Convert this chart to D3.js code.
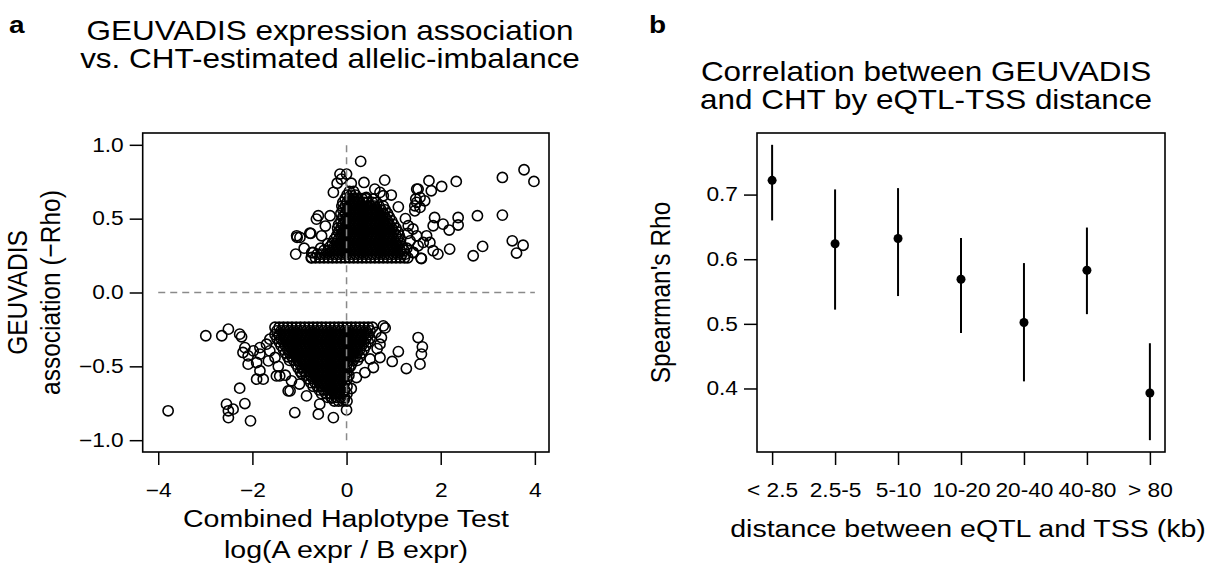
<!DOCTYPE html>
<html>
<head>
<meta charset="utf-8">
<script src="https://d3js.org/d3.v7.min.js"></script>
<style>
body { margin: 0; background: #fff; }
text { font-family: "Liberation Sans", Arial, Helvetica, sans-serif; fill: #000; }
</style>
</head>
<body>
<div id="chart"></div>
<script>
// ---- panel a: single points [CHT log ratio, -rho]
var pointsA = [
  [0.30,0.888],[-0.14,0.802],[0.00,0.802],[-0.11,0.768],[-0.28,0.678],[0.37,0.745],[0.81,0.761],
  [0.71,0.678],[0.78,0.655],[1.49,0.700],[1.47,0.633],[1.45,0.587],[-0.60,0.520],[-0.64,0.497],
  [-0.35,0.520],[-1.06,0.384],[-0.99,0.373],[-0.78,0.402],[-0.53,0.384],[-1.08,0.260],[-0.71,0.271],
  [0.42,0.644],[0.57,0.633],[0.25,0.621],[1.75,0.757],[2.02,0.718],[2.33,0.752],[3.31,0.779],
  [3.77,0.831],[3.98,0.752],[1.52,0.700],[1.56,0.644],[1.49,0.610],[1.66,0.621],[1.56,0.576],
  [1.80,0.689],[1.45,0.553],[1.87,0.508],[1.84,0.452],[2.05,0.463],[2.37,0.508],[2.37,0.457],
  [2.18,0.423],[2.78,0.520],[3.31,0.524],[1.41,0.430],[1.49,0.384],[1.63,0.339],[1.52,0.316],
  [1.77,0.339],[1.84,0.283],[1.94,0.260],[2.19,0.294],[1.59,0.230],[1.41,0.271],[1.70,0.384],
  [2.69,0.249],[2.89,0.312],[3.52,0.350],[3.75,0.320],[3.61,0.267],[1.31,0.452],[1.42,0.271],
  [1.58,0.233],[-0.74,0.270],[-0.74,0.237],[-1.05,0.373],[-0.76,0.400],[1.30,0.400],[1.25,0.500],
  [1.10,0.580],[0.95,0.660],[0.60,0.700],[-0.20,0.740],[0.10,0.740],[-0.45,0.450],[-0.40,0.330],
  [-0.90,0.300],[-0.55,0.300],[1.35,0.350],[1.28,0.300],
  [-3.79,-0.801],[-2.99,-0.293],[-2.65,-0.293],[-2.51,-0.248],[-2.27,-0.282],[-2.23,-0.300],
  [-2.16,-0.373],[-2.20,-0.406],[-2.09,-0.429],[-1.98,-0.395],[-1.84,-0.373],[-1.84,-0.417],
  [-2.09,-0.485],[-1.91,-0.474],[-1.84,-0.530],[-1.91,-0.587],[-1.77,-0.587],[-1.49,-0.565],
  [-2.27,-0.648],[-2.55,-0.756],[-2.51,-0.801],[-2.41,-0.790],[-2.51,-0.847],[-2.16,-0.752],
  [-2.04,-0.869],[-1.63,-0.316],[-1.70,-0.350],[-1.63,-0.395],[-1.52,-0.440],[-1.66,-0.463],
  [-1.24,-0.666],[0.78,-0.226],[0.82,-0.240],[1.52,-0.305],[1.61,-0.368],[1.59,-0.417],
  [1.56,-0.485],[1.10,-0.400],[0.97,-0.467],[1.27,-0.515],[0.71,-0.440],[0.71,-0.350],
  [0.74,-0.305],[0.57,-0.508],[0.39,-0.542],[0.21,-0.576],[-1.17,-0.598],[-1.20,-0.666],
  [-0.85,-0.700],[-0.57,-0.756],[-0.60,-0.824],[-0.28,-0.847],[-1.10,-0.813],[0.00,-0.795],
  [-0.32,-0.715],[-1.42,-0.565],[-0.05,-0.723],[0.62,-0.270],[0.65,-0.380],[0.50,-0.450],
  [-1.45,-0.500],[-1.30,-0.560],[-1.00,-0.620],[-0.95,-0.550],[0.10,-0.650],[0.08,-0.500]
];

// ---- panel a: the solid black cores, estimated row by row [rho level, x positions]
var upperRows = [
  [0.235, "-0.75 -0.66 -0.57 -0.48 -0.39 -0.30 -0.21 -0.12 -0.03 0.06 0.15 0.24 0.33 0.42 0.51 0.60 0.69 0.78 0.87 0.96 1.05 1.14 1.23 1.30"],
  [0.260, "-0.62 -0.53 -0.44 -0.35 -0.26 -0.17 -0.08 0.01 0.10 0.19 0.28 0.37 0.46 0.55 0.64 0.73 0.82 0.91 1.00 1.09 1.18 1.25"],
  [0.285, "-0.48 -0.39 -0.30 -0.21 -0.12 -0.03 0.06 0.15 0.24 0.33 0.42 0.51 0.60 0.69 0.78 0.87 0.96 1.05 1.14 1.22"],
  [0.310, "-0.35 -0.26 -0.17 -0.08 0.01 0.10 0.19 0.28 0.37 0.46 0.55 0.64 0.73 0.82 0.91 1.00 1.09 1.18"],
  [0.335, "-0.30 -0.21 -0.12 -0.03 0.06 0.15 0.24 0.33 0.42 0.51 0.60 0.69 0.78 0.87 0.96 1.05 1.14"],
  [0.360, "-0.26 -0.17 -0.08 0.01 0.10 0.19 0.28 0.37 0.46 0.55 0.64 0.73 0.82 0.91 1.00 1.09 1.15"],
  [0.385, "-0.21 -0.12 -0.03 0.06 0.15 0.24 0.33 0.42 0.51 0.60 0.69 0.78 0.87 0.96 1.05 1.12"],
  [0.410, "-0.17 -0.08 0.01 0.10 0.19 0.28 0.37 0.46 0.55 0.64 0.73 0.82 0.91 1.00 1.09"],
  [0.435, "-0.19 -0.12 -0.03 0.06 0.15 0.24 0.33 0.42 0.51 0.60 0.69 0.78 0.87 0.96 1.05"],
  [0.460, "-0.17 -0.08 0.01 0.10 0.19 0.28 0.37 0.46 0.55 0.64 0.73 0.82 0.91 1.00"],
  [0.485, "-0.12 -0.03 0.06 0.15 0.24 0.33 0.42 0.51 0.60 0.69 0.78 0.87 0.96"],
  [0.510, "-0.08 0.01 0.10 0.19 0.28 0.37 0.46 0.55 0.64 0.73 0.82 0.91"],
  [0.535, "-0.12 -0.03 0.06 0.15 0.24 0.33 0.42 0.51 0.60 0.69 0.78 0.87"],
  [0.560, "-0.08 0.01 0.10 0.19 0.28 0.37 0.46 0.55 0.64 0.73 0.82"],
  [0.585, "-0.10 -0.03 0.06 0.15 0.24 0.33 0.42 0.51 0.60 0.69 0.78"],
  [0.610, "-0.08 0.01 0.10 0.19 0.28 0.37 0.46 0.55 0.64"],
  [0.635, "-0.03 0.06 0.15 0.24 0.33 0.42"],
  [0.660, "0.01 0.10 0.19"],
  [0.685, "0.06 0.15"]
];
var lowerRows = [
  [-0.235, "-1.52 -1.43 -1.34 -1.25 -1.16 -1.07 -0.98 -0.89 -0.80 -0.71 -0.62 -0.53 -0.44 -0.35 -0.26 -0.17 -0.08 0.01 0.10 0.19 0.28 0.37 0.46 0.55"],
  [-0.260, "-1.48 -1.39 -1.30 -1.21 -1.12 -1.03 -0.94 -0.85 -0.76 -0.67 -0.58 -0.49 -0.40 -0.31 -0.22 -0.13 -0.04 0.05 0.14 0.23 0.32 0.41 0.50"],
  [-0.285, "-1.52 -1.43 -1.34 -1.25 -1.16 -1.07 -0.98 -0.89 -0.80 -0.71 -0.62 -0.53 -0.44 -0.35 -0.26 -0.17 -0.08 0.01 0.10 0.19 0.28 0.37 0.46"],
  [-0.310, "-1.48 -1.39 -1.30 -1.21 -1.12 -1.03 -0.94 -0.85 -0.76 -0.67 -0.58 -0.49 -0.40 -0.31 -0.22 -0.13 -0.04 0.05 0.14 0.23 0.32 0.41 0.50"],
  [-0.335, "-1.43 -1.34 -1.25 -1.16 -1.07 -0.98 -0.89 -0.80 -0.71 -0.62 -0.53 -0.44 -0.35 -0.26 -0.17 -0.08 0.01 0.10 0.19 0.28 0.37 0.46"],
  [-0.360, "-1.39 -1.30 -1.21 -1.12 -1.03 -0.94 -0.85 -0.76 -0.67 -0.58 -0.49 -0.40 -0.31 -0.22 -0.13 -0.04 0.05 0.14 0.23 0.32 0.41"],
  [-0.385, "-1.34 -1.25 -1.16 -1.07 -0.98 -0.89 -0.80 -0.71 -0.62 -0.53 -0.44 -0.35 -0.26 -0.17 -0.08 0.01 0.10 0.19 0.28 0.37"],
  [-0.410, "-1.30 -1.21 -1.12 -1.03 -0.94 -0.85 -0.76 -0.67 -0.58 -0.49 -0.40 -0.31 -0.22 -0.13 -0.04 0.05 0.14 0.23 0.32"],
  [-0.435, "-1.25 -1.16 -1.07 -0.98 -0.89 -0.80 -0.71 -0.62 -0.53 -0.44 -0.35 -0.26 -0.17 -0.08 0.01 0.10 0.19 0.28"],
  [-0.460, "-1.21 -1.12 -1.03 -0.94 -0.85 -0.76 -0.67 -0.58 -0.49 -0.40 -0.31 -0.22 -0.13 -0.04 0.05 0.14 0.23"],
  [-0.485, "-1.07 -0.98 -0.89 -0.80 -0.71 -0.62 -0.53 -0.44 -0.35 -0.26 -0.17 -0.08 0.01 0.10"],
  [-0.510, "-1.03 -0.94 -0.85 -0.76 -0.67 -0.58 -0.49 -0.40 -0.31 -0.22 -0.13 -0.04 0.05"],
  [-0.535, "-0.98 -0.89 -0.80 -0.71 -0.62 -0.53 -0.44 -0.35 -0.26 -0.17 -0.08 0.01"],
  [-0.560, "-0.85 -0.76 -0.67 -0.58 -0.49 -0.40 -0.31 -0.22 -0.13 -0.04 0.05"],
  [-0.585, "-0.80 -0.71 -0.62 -0.53 -0.44 -0.35 -0.26 -0.17 -0.08 0.01"],
  [-0.610, "-0.76 -0.67 -0.58 -0.49 -0.40 -0.31 -0.22 -0.13 -0.04"],
  [-0.635, "-0.71 -0.62 -0.53 -0.44 -0.35 -0.26 -0.17 -0.08 0.01"],
  [-0.660, "-0.58 -0.49 -0.40 -0.31 -0.22 -0.13 -0.04"],
  [-0.685, "-0.53 -0.44 -0.35 -0.26 -0.17 -0.08 0.01"],
  [-0.710, "-0.40 -0.31 -0.22 -0.13 -0.04"],
  [-0.735, "-0.26 -0.17 -0.08 0.01"]
];
var xTicksA = [-4, -2, 0, 2, 4];
var yTicksA = [-1, -0.5, 0, 0.5, 1];

// ---- panel b: Spearman rho by eQTL-TSS distance, with interval ends
var distBins = ["< 2.5", "2.5-5", "5-10", "10-20", "20-40", "40-80", "> 80"];
var rho   = [0.722, 0.624, 0.632, 0.569, 0.502, 0.583, 0.393];
var rhoLo = [0.660, 0.522, 0.543, 0.486, 0.411, 0.515, 0.320];
var rhoHi = [0.777, 0.708, 0.710, 0.633, 0.594, 0.649, 0.470];
var yTicksB = [0.4, 0.5, 0.6, 0.7];

var W = 1219, H = 569;
var plotTop = 133, plotBottom = 452;
var tickLen = 13, tickFont = 19.5, labFont = 24.5, titleFont = 27;
var SX = 1.165;   // the reference is wider than tall, text included

var svg = d3.select("#chart").append("svg")
  .attr("width", W).attr("height", H);

function minus(s) { return String(s).replace("-", "\u2212"); }

// text stretched sideways like the reference
function label(g, x, y, txt, size, anchor, rotate, bold) {
  var tr = "translate(" + x + "," + y + ")" + (rotate ? " rotate(-90) scale(1," + SX + ")" : " scale(" + SX + ",1)");
  return g.append("text").attr("transform", tr)
    .attr("text-anchor", anchor || "middle")
    .style("font-size", size + "px")
    .style("font-weight", bold ? "bold" : "normal")
    .text(txt);
}

function styleAxis(g) {
  g.select(".domain").remove();
  g.selectAll(".tick line").attr("stroke", "#000").attr("stroke-width", 1.5);
  g.selectAll(".tick text").each(function() {
    var t = d3.select(this);
    var x = +t.attr("x") || 0, y = +t.attr("y") || 0;
    t.attr("x", null).attr("y", null)
      .attr("transform", "translate(" + x + "," + y + ") scale(" + SX + ",1)")
      .style("font-size", tickFont + "px")
      .style("font-family", '"Liberation Sans", Arial, sans-serif')
      .attr("fill", "#000");
  });
}

// ================= panel a =================
var ax = d3.scaleLinear().domain([-4.33, 4.30]).range([142.7, 549]);
var ay = d3.scaleLinear().domain([-1.08, 1.08]).range([plotBottom, plotTop]);

var pa = svg.append("g");

var allA = pointsA.slice();
upperRows.concat(lowerRows).forEach(function(r) {
  r[1].split(" ").forEach(function(v) { allA.push([+v, r[0]]); });
});

pa.append("g").selectAll("circle")
  .data(allA).enter().append("circle")
  .attr("cx", function(d) { return ax(d[0]); })
  .attr("cy", function(d) { return ay(d[1]); })
  .attr("r", 5.1)
  .attr("fill", "none")
  .attr("stroke", "#000")
  .attr("stroke-width", 1.6);

// dashed reference lines drawn over the points
pa.append("line")
  .attr("x1", ax(-4)).attr("x2", ax(4)).attr("y1", ay(0)).attr("y2", ay(0))
  .attr("stroke", "#8a8a8a").attr("stroke-width", 1.5).attr("stroke-dasharray", "7,5");
pa.append("line")
  .attr("x1", ax(0)).attr("x2", ax(0)).attr("y1", ay(-1)).attr("y2", ay(1))
  .attr("stroke", "#8a8a8a").attr("stroke-width", 1.5).attr("stroke-dasharray", "7,5");

pa.append("g").attr("transform", "translate(0," + plotBottom + ")")
  .call(d3.axisBottom(ax).tickValues(xTicksA).tickSize(tickLen).tickPadding(18)
    .tickFormat(function(d) { return minus(d); }))
  .call(styleAxis);
pa.append("g").attr("transform", "translate(142.7,0)")
  .call(d3.axisLeft(ay).tickValues(yTicksA).tickSize(tickLen).tickPadding(6)
    .tickFormat(function(d) { return minus(d3.format(".1f")(d)); }))
  .call(styleAxis);

pa.append("rect").attr("x", 142.7).attr("y", plotTop)
  .attr("width", 549 - 142.7).attr("height", plotBottom - plotTop)
  .attr("fill", "none").attr("stroke", "#000").attr("stroke-width", 1.6);

label(pa, 9, 33, "a", 24, "start", false, true);
label(pa, 330, 40, "GEUVADIS expression association", titleFont);
label(pa, 330, 68, "vs. CHT-estimated allelic-imbalance", titleFont);

label(pa, 346, 527, "Combined Haplotype Test", labFont);
label(pa, 346, 558, "log(A expr / B expr)", labFont);

var midA = (plotTop + plotBottom) / 2;
label(pa, 27, midA, "GEUVADIS", labFont, "middle", true);
label(pa, 60, midA, "association (\u2212Rho)", labFont, "middle", true);

// ================= panel b =================
var bx = d3.scaleLinear().domain([0.76, 7.24]).range([757, 1165]);
var lo = d3.min(rhoLo), hi = d3.max(rhoHi), pad = (hi - lo) * 0.04;
var by = d3.scaleLinear().domain([lo - pad, hi + pad]).range([plotBottom, plotTop]);

var pb = svg.append("g");

pb.append("g").selectAll("line")
  .data(distBins).enter().append("line")
  .attr("x1", function(d, i) { return bx(i + 1); })
  .attr("x2", function(d, i) { return bx(i + 1); })
  .attr("y1", function(d, i) { return by(rhoLo[i]); })
  .attr("y2", function(d, i) { return by(rhoHi[i]); })
  .attr("stroke", "#000").attr("stroke-width", 2);

pb.append("g").selectAll("circle")
  .data(distBins).enter().append("circle")
  .attr("cx", function(d, i) { return bx(i + 1); })
  .attr("cy", function(d, i) { return by(rho[i]); })
  .attr("r", 4.5).attr("fill", "#000");

pb.append("g").attr("transform", "translate(0," + plotBottom + ")")
  .call(d3.axisBottom(bx).tickValues(d3.range(1, distBins.length + 1)).tickSize(tickLen).tickPadding(18)
    .tickFormat(function(d) { return distBins[d - 1]; }))
  .call(styleAxis);
pb.append("g").attr("transform", "translate(757,0)")
  .call(d3.axisLeft(by).tickValues(yTicksB).tickSize(tickLen).tickPadding(6)
    .tickFormat(d3.format(".1f")))
  .call(styleAxis);

pb.append("rect").attr("x", 757).attr("y", plotTop)
  .attr("width", 1165 - 757).attr("height", plotBottom - plotTop)
  .attr("fill", "none").attr("stroke", "#000").attr("stroke-width", 1.6);

label(pb, 649, 33, "b", 24, "start", false, true);
label(pb, 926, 81, "Correlation between GEUVADIS", titleFont);
label(pb, 926, 109, "and CHT by eQTL-TSS distance", titleFont);

label(pb, 968, 537, "distance between eQTL and TSS (kb)", labFont);
label(pb, 670, midA, "Spearman's Rho", labFont, "middle", true);
</script>
</body>
</html>
